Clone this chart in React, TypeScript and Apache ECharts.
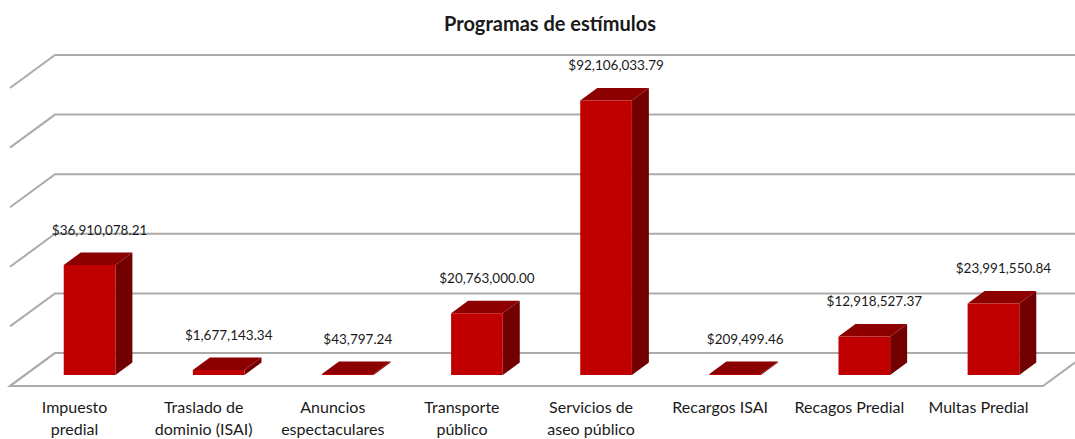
import React, { useEffect, useRef } from "react";
import * as echarts from "echarts";

const title = "Programas de estímulos";
const categories = [
  "Impuesto\npredial",
  "Traslado de\ndominio (ISAI)",
  "Anuncios\nespectaculares",
  "Transporte\npúblico",
  "Servicios de\naseo público",
  "Recargos ISAI",
  "Recagos Predial",
  "Multas Predial",
];
const values = [
  36910078.21, 1677143.34, 43797.24, 20763000.0, 92106033.79, 209499.46,
  12918527.37, 23991550.84,
];
const yTicks = [0, 20000000, 40000000, 60000000, 80000000, 100000000];

const FONT = "Lato, 'Open Sans', sans-serif";
// depth geometry (pixels)
const WALL = [30, -22]; // bar front plane -> back wall
const FLOOR = [-15, 11]; // bar front plane -> floor front edge
const BAR_D = [17, -12.5]; // bar depth
const GRID_COLOR = "#ababab";

const fmt = (v: number) =>
  "$" +
  v.toLocaleString("en-US", {
    minimumFractionDigits: 2,
    maximumFractionDigits: 2,
  });

export default function App() {
  const ref = useRef<HTMLDivElement>(null);
  useEffect(() => {
    if (!ref.current) return;
    const chart = echarts.init(ref.current, null, { renderer: "svg" });
    const n = categories.length;
    chart.setOption({
      animation: false,
      backgroundColor: "#ffffff",
      title: {
        text: title,
        left: 545,
        textAlign: "center",
        top: 8,
        textStyle: {
          fontFamily: FONT,
          fontSize: 20,
          fontWeight: "bold",
          color: "#1a1a1a",
        },
      },
      grid: [
        { left: 25, right: 17, top: 77, bottom: 64 },
        { left: 10, right: 32, top: 88, bottom: 53 },
      ],
      xAxis: [
        {
          type: "category",
          gridIndex: 0,
          data: categories,
          show: false,
        },
        {
          type: "category",
          gridIndex: 1,
          data: categories,
          axisLine: { show: false },
          axisTick: { show: false },
          axisLabel: {
            margin: 11,
            fontFamily: FONT,
            fontSize: 16,
            lineHeight: 22,
            color: "#1a1a1a",
            interval: 0,
          },
        },
      ],
      yAxis: [
        {
          type: "value",
          gridIndex: 0,
          min: 0,
          max: 100000000,
          interval: 20000000,
          show: false,
        },
        {
          type: "value",
          gridIndex: 1,
          min: 0,
          max: 100000000,
          show: false,
        },
      ],
      series: [
        {
          type: "custom",
          xAxisIndex: 0,
          yAxisIndex: 0,
          clip: false,
          silent: true,
          data: yTicks.map((v) => [0, v]),
          encode: { x: 0, y: 1 },
          renderItem: (params: any, api: any) => {
            const v = api.value(1);
            const p = api.coord([0, v]);
            const bw = api.size([1, 0])[0];
            const fl = p[0] - bw / 2; // front plane left
            const fr = fl + bw * n; // front plane right
            const by = p[1] + WALL[1];
            const bl = fl + WALL[0];
            const br = fr + WALL[0];
            const dx = FLOOR[0] - WALL[0];
            const dy = FLOOR[1] - WALL[1];
            const children: any[] = [];
            if (v === 0) {
              children.push({
                type: "polygon",
                shape: {
                  points: [
                    [fl + FLOOR[0], p[1] + FLOOR[1]],
                    [fr + FLOOR[0], p[1] + FLOOR[1]],
                    [br, by],
                    [bl, by],
                  ],
                },
                style: { fill: "#ffffff", stroke: GRID_COLOR, lineWidth: 2 },
              });
            }
            children.push({
              type: "polyline",
              shape: {
                points: [
                  [bl + dx, by + dy],
                  [bl, by],
                  [br, by],
                ],
              },
              style: { fill: "none", stroke: GRID_COLOR, lineWidth: 2 },
            });
            return { type: "group", children };
          },
          z: 1,
        },
        {
          type: "custom",
          xAxisIndex: 0,
          yAxisIndex: 0,
          clip: false,
          data: values.map((v, i) => [i, v]),
          encode: { x: 0, y: 1 },
          renderItem: (params: any, api: any) => {
            const i = api.value(0);
            const v = api.value(1);
            const p0 = api.coord([i, 0]);
            const p1 = api.coord([i, v]);
            const w = api.size([1, 0])[0] * 0.4;
            const xl = p0[0] - w / 2;
            const xr = xl + w;
            const yb = p0[1];
            const yt = Math.min(p1[1], yb - 1);
            const [dx, dy] = BAR_D;
            return {
              type: "group",
              children: [
                {
                  type: "polygon",
                  shape: {
                    points: [
                      [xr, yt],
                      [xr + dx, yt + dy],
                      [xr + dx, yb + dy],
                      [xr, yb],
                    ],
                  },
                  style: { fill: "#730000" },
                },
                {
                  type: "polygon",
                  shape: {
                    points: [
                      [xl, yt],
                      [xr, yt],
                      [xr + dx, yt + dy],
                      [xl + dx, yt + dy],
                    ],
                  },
                  style: { fill: "#8c0000" },
                },
                {
                  type: "rect",
                  shape: { x: xl, y: yt, width: w, height: yb - yt },
                  style: { fill: "#c00000" },
                },
                {
                  type: "text",
                  x: p0[0] + 10,
                  y: yt + dy - 23,
                  style: {
                    text: fmt(v),
                    fontFamily: FONT,
                    fontSize: 13.5,
                    fill: "#1a1a1a",
                    align: "center",
                    verticalAlign: "middle",
                  },
                },
              ],
            };
          },
          z: 2,
        },
      ],
    });
    return () => chart.dispose();
  }, []);
  return (
    <div
      ref={ref}
      style={{
        position: "absolute",
        left: 0,
        top: 0,
        width: 1075,
        height: 439,
      }}
    />
  );
}
